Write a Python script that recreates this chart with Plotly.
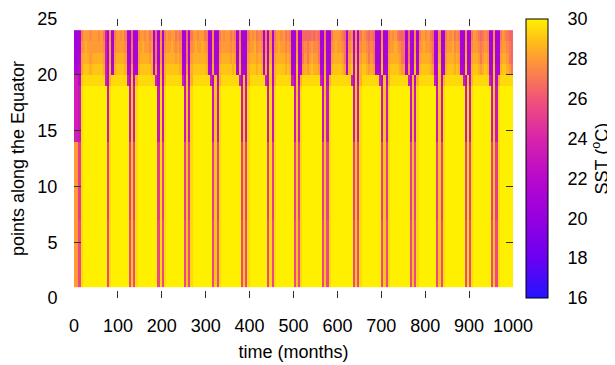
import plotly.graph_objects as go

# ---- data ----
# time bins: 5-month columns from 0 to 1000 months; rows: points 1..24 along the Equator
month_edges = list(range(0, 1001, 5))
point_edges = list(range(1, 25))

# SST code letters: a=20.0, b=20.5, ... u=30.0 (0.5 degC steps)
sst_code = {chr(ord('a') + k): 20.0 + 0.5 * k for k in range(21)}

# each row: 20 chunks of 10 columns (50 months per chunk), bottom row first
row_low = ("qqltuuuuuu uuuuultuuu uuuuulsltu uuuuuuuult ltuuuuuuuu "
           "lsltuuuuuu uuulsltuuu uuuuuulslt uuuuuuuult ltuuuuuuuu "
           "lsltuuuuuu uuulsltuuu uuuuuuulsl tuuuuuuuuu lsltuuuuuu "
           "uuulsltuuu uuuuulsltu uuuuuuuult ltuuuuuuuu lsltuuuuuu")
row_mid = ("qqktuuuuuu uuuuuktuuu uuuuukskt u uuuuuuuukt ktuuuuuuuu "
           "ksktuuuuuu uuuksktuuu uuuuuukskt uuuuuuuukt ktuuuuuuuu "
           "ksktuuuuuu uuuksktuuu uuuuuuuksk tuuuuuuuuu ksktuuuuuu "
           "uuuksktuuu uuuuukskt u uuuuuuuukt ktuuuuuuuu ksktuuuuuu")
row_upmid = ("hhgtuuuuuu uuuuugtuuu uuuuugsgtu uuuuuuuugt gtuuuuuuuu "
             "gsgtuuuuuu uuugsgtuuu uuuuuugsgt uuuuuuuugt gtuuuuuuuu "
             "gsgtuuuuuu uuugsgtuuu uuuuuuugsg tuuuuuuuuu gsgtuuuuuu "
             "uuugsgtuuu uuuuugsgtu uuuuuuuugt gtuuuuuuuu gsgtuuuuuu")
row_19 = ("hhestttttt ttttherttt tttthesert ttttttthes erttttttth "
          "esertttttt ttheserttt tttttheser ttttttthes erttttttth "
          "esertttttt ttheserttt tttttthese rtttttttth esertttttt "
          "ttheserttt tttthesert ttttttthes erttttttth esertttttt")
row_20 = ("ddeqsssrss sssrhdrdrs sssrddqddr sssssrdqdr drssssssrd "
          "dqdrssssss rddrddrsss ssrsdrdddr sssrsrdrds drssssrsrd "
          "dsddqrqrsr rqddrddrss ssrqdrsdsd rssrqrqddd sddrssssrq "
          "qdqddsdrss ssrqddsddr sssrsrddsd drssrqrsrd dsddrssrqo")
row_21 = ("ccdqrrrqrr rrrqhcqcqr rrrqccoccq rrrrqrcocq cqrrrrqrqc "
          "cocqrrrrrr qccqccqrrr rqrqcqcccq rrrqrqcqcr cqrrrrqrqc "
          "crccoqoqrq qoccqccqrr rrqocqrcrc qrrqoqoccc rccqrrrrqo "
          "ococcrcqrr rrqoccrccq rrrqrqccrc cqrrqoqrqc crccqrrqon")
row_22 = ("cccpqrqqqq qqqphcqcpq qqqpccoccq qrqqpqcocq cpqqrqpqpc "
          "cocpqrqqrq pccqccpqqq qpqpcpcccp qqrpqpcpcq cpqrqqpqpc "
          "cqccopopqp poccpccpqr qqpocpqcqc pqqpopoccc qccpqqrqpo "
          "ococcqcpqr qqpoccqccp qqrpqpccqc cpqqpopqpc cqccpqqpon")
row_23 = ("cccoqqqpqq qpqohcpcoq qpqoccncco qqpqopcncp coqpqqopoc "
          "cncoqqpqqo occpccoqpq qopococcco qpqopococp coqqpqopoc "
          "cpccnnnnon onccoccoqq qponcopcpc oqpononccc pccoqpqonn "
          "ncnccpcoqq pqonccpcco qpqopoccpc coqponopoc cpccoqponn")

rows_bottom_to_top = ([row_low] * 6 + [row_mid] * 7 + [row_upmid] * 5 +
                      [row_19, row_20, row_21, row_22, row_23])

sst = []
for r in rows_bottom_to_top:
    s = r.replace(" ", "")
    assert len(s) == 200, len(s)
    sst.append([sst_code[c] for c in s])

x_ticks = list(range(0, 1001, 100))
y_ticks = list(range(0, 26, 5))
cb_ticks = list(range(16, 31, 2))

colorscale = [
    [0.0, "#2414ff"],
    [0.1429, "#6a00f2"],
    [0.2857, "#9600e0"],
    [0.4286, "#b808cc"],
    [0.5714, "#d824aa"],
    [0.7143, "#f25478"],
    [0.8571, "#ff9a34"],
    [0.9286, "#ffc414"],
    [1.0, "#fff000"],
]

FONT = "Liberation Sans, Arial, sans-serif"
# the page body adds an 8px offset; plot area spans 74..513 x 19..298 in the window
PX0, PW = 66, 439

fig = go.Figure()
fig.add_trace(go.Heatmap(
    x=month_edges, y=point_edges, z=sst,
    zmin=16, zmax=30, colorscale=colorscale,
    colorbar=dict(
        x=(526 - 74) / PW, xanchor="left", xpad=0,
        y=0.5, yanchor="middle", ypad=0, len=1, lenmode="fraction",
        thickness=22, outlinewidth=1, outlinecolor="black",
        tickvals=cb_ticks, ticks="outside", ticklen=16,
        tickcolor="rgba(0,0,0,0)",
        tickfont=dict(size=18, color="black", family=FONT),
    ),
    hoverinfo="skip",
))

# inward ticks on both edges of the colour bar
for v in cb_ticks[1:-1]:
    yv = (v - 16) / 14
    for xa, xb in ((526, 531), (543, 548)):
        fig.add_shape(type="line", xref="paper", yref="paper",
                      x0=(xa - 74) / PW, x1=(xb - 74) / PW, y0=yv, y1=yv,
                      line=dict(color="#333", width=1))

fig.add_annotation(text="SST (<sup>o</sup>C)", xref="paper", yref="paper",
                   x=(601 - 74) / PW, y=0.5, xanchor="center", yanchor="middle",
                   textangle=-90, showarrow=False,
                   font=dict(size=18, color="black", family=FONT))

axis_common = dict(ticks="inside", ticklen=7, tickcolor="#333", tickwidth=1,
                   mirror="ticks", showline=True, linecolor="rgba(0,0,0,0)",
                   showgrid=False, zeroline=False, automargin=False,
                   tickfont=dict(size=18, color="black", family=FONT))

fig.update_xaxes(range=[0, 1000], tickvals=x_ticks, ticklabelstandoff=11,
                 title=dict(text="time (months)", font=dict(size=18, color="black", family=FONT),
                            standoff=10),
                 **axis_common)
fig.update_yaxes(range=[0, 25], tickvals=y_ticks, ticklabelstandoff=12,
                 title=dict(text="points along the Equator", font=dict(size=18, color="black", family=FONT),
                            standoff=8),
                 **axis_common)

fig.update_layout(width=607, height=357,
                  margin=dict(l=PX0, r=102, t=11, b=67, autoexpand=False),
                  plot_bgcolor="white", paper_bgcolor="white",
                  font=dict(family=FONT, size=18, color="black"))

fig.write_html("out.html")
